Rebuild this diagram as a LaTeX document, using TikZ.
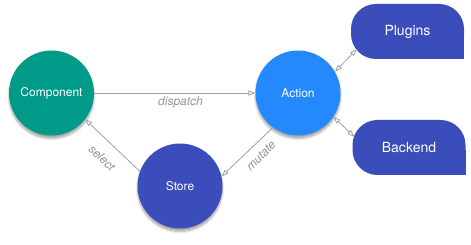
\documentclass[tikz,border=0pt]{standalone}
\usepackage{fontspec}
\setmainfont{TeX Gyre Heros}
\usetikzlibrary{arrows.meta,shadows.blur,calc}
\definecolor{cteal}{HTML}{009A88}
\definecolor{cblue}{HTML}{2589FE}
\definecolor{cindigo}{HTML}{3B4DBA}
\definecolor{cline}{HTML}{A0A0A0}
\definecolor{clabel}{HTML}{959595}
\begin{document}
\begin{tikzpicture}[x=1pt,y=-1pt,
  state/.style={circle, minimum size=85pt, inner sep=0pt, text=white, font=\fontsize{12}{14}\selectfont,
    blur shadow={shadow xshift=0pt, shadow yshift=-3pt, shadow blur steps=6, shadow opacity=35}},
  pill/.style={rectangle, rounded corners=25pt, minimum width=113pt, minimum height=55pt, inner sep=0pt,
    fill=cindigo, text=white, font=\fontsize{14}{16}\selectfont},
  conn/.style={draw=cline, line width=0.8pt, -{Triangle[open, length=7pt, width=5pt]}},
  biconn/.style={draw=cline, line width=0.8pt, {Triangle[open, length=7pt, width=5pt]}-{Triangle[open, length=7pt, width=5pt]}},
  lbl/.style={text=clabel, font=\fontsize{12}{14}\selectfont\itshape, inner sep=0pt}]
\useasboundingbox (0,0) rectangle (471,245);
\node[state, fill=cteal] (component) at (51.5,93) {Component};
\node[state, fill=cblue] (action) at (298,93) {Action};
\node[state, fill=cindigo] (store) at (180,186) {Store};
\fill[cindigo] (464,59) rectangle (439,34);
\node[pill] (plugins) at (407.5,31.5) {Plugins};
\fill[cindigo] (465.5,175) rectangle (440.5,150);
\node[pill] (backend) at (409,147.5) {Backend};
\draw[conn] (component.east) -- (action.west);
\node[lbl] (ldispatch) at (180.5,102) {dispatch};
\draw[conn] (store.160) -- (component.-38);
\node[lbl, rotate=-44] (lselect) at (102,158) {select};
\draw[conn] (action.234) -- (store.13.5);
\node[lbl, rotate=46] (lmutate) at (261,156) {mutate};
\draw[biconn] (action.30) -- ($(plugins.south west)+(6,-10)$);
\draw[biconn] (action.-34) -- ($(backend.north west)+(2,17)$);
\end{tikzpicture}
\end{document}
